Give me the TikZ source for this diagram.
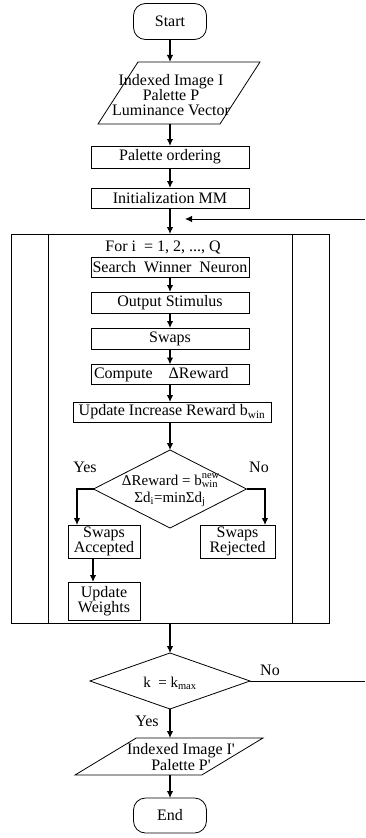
\documentclass[tikz,border=0pt]{standalone}
\usepackage{fontspec}
\setmainfont{Liberation Serif}
\usetikzlibrary{shapes.geometric,arrows.meta}
\begin{document}
\begin{tikzpicture}[x=1pt,y=-1pt,
  font=\fontsize{16}{15}\selectfont,
  every node/.style={inner sep=0pt, outer sep=0pt},
  term/.style={draw, line width=0.8pt, rounded corners=12pt, minimum width=73pt, minimum height=36pt},
  procbox/.style={draw, line width=0.8pt, minimum height=20pt},
  io/.style={draw, line width=0.8pt, trapezium, trapezium stretches=true, inner sep=2pt},
  dia/.style={draw, line width=0.8pt, diamond, inner sep=2pt},
  arr/.style={-{Latex[length=7pt,width=6.5pt]}, line width=1.1pt},
  tarr/.style={-{Latex[length=7pt,width=6.5pt]}, line width=2.2pt},
  conn/.style={line width=1pt}
]
\useasboundingbox (0,0) rectangle (365,838);

% top part
\node[term] (start) at (170,21.5) {Start};
\node[io, trapezium left angle=64, trapezium right angle=116,
      minimum width=162pt, minimum height=62pt] (in) at (179,93) {};
\node[align=center, font=\fontsize{16}{15}\selectfont] (intext) at (171,95)
  {Indexed Image I\\Palette P\\Luminance Vector};
\node[procbox, minimum width=158pt, minimum height=22pt] (po) at (170,157) {Palette ordering};
\node[procbox, minimum width=158pt] (init) at (170,198) {Initialization MM};

% loop box
\node[draw, line width=0.8pt, minimum width=318pt, minimum height=389pt] (loop) at (170,428.5) {};
\draw[line width=0.8pt] ([xshift=37pt]loop.north west) -- ([xshift=37pt]loop.south west);
\draw[line width=0.8pt] ([xshift=-37pt]loop.north east) -- ([xshift=-37pt]loop.south east);

\node (fori) at (163,247) {For i\ \ = 1, 2, ..., Q};
\node[procbox, minimum width=158pt] (sw) at (170,267) {Search\ \ Winner\ \ Neuron};
\node[procbox, minimum width=158pt, minimum height=21pt] (os) at (170,302.5) {Output Stimulus};
\node[procbox, minimum width=158pt, minimum height=21pt] (sp) at (170,338.5) {Swaps};
\node[procbox, minimum width=158pt, text width=152pt, align=left] (cr) at (170,374.5) {Compute\hspace{1em}ΔReward};
\node[procbox, minimum width=198pt] (up) at (172,412) {Update Increase Reward b\textsubscript{win}};

\node[dia, minimum width=153pt, minimum height=78pt] (d1) at (170,489) {};
\node[align=center, font=\fontsize{15}{17}\selectfont] (d1text) at (170,490)
  {ΔReward = b\rlap{\raisebox{1.5pt}{\textsuperscript{new}}}\textsubscript{win}\\Σd\textsubscript{i}=minΣd\textsubscript{j}};
\node (yes1) at (85,467) {Yes};
\node (no1) at (259,467) {No};

\node[procbox, minimum width=72pt, minimum height=33pt, align=center,
      font=\fontsize{16}{14}\selectfont] (acc) at (104,541.5) {Swaps\\Accepted};
\node[procbox, minimum width=75pt, minimum height=33pt, align=center,
      font=\fontsize{16}{14}\selectfont] (rej) at (237.5,541.5) {Swaps\\Rejected};
\node[procbox, minimum width=72pt, minimum height=38pt, align=center,
      font=\fontsize{16}{14}\selectfont] (wt) at (104,601) {Update\\Weights};

% bottom part
\node[dia, minimum width=160pt, minimum height=56pt] (d2) at (170,681) {};
\node[font=\fontsize{15}{15}\selectfont] (d2text) at (170,683) {k\ \ = k\textsubscript{max}};
\node (no2) at (270,670) {No};
\node (yes2) at (147,721) {Yes};
\node[io, trapezium left angle=47, trapezium right angle=133,
      minimum width=188pt, minimum height=37pt] (out) at (169,756.5) {};
\node[align=center, font=\fontsize{16}{12}\selectfont] (outtext) at (181,757)
  {Indexed Image I\textquotesingle\\Palette P\textquotesingle};
\node[term, minimum height=35pt] (end) at (170,815.5) {End};

\coordinate (fbstart) at (365,219);
\coordinate (fbend) at (185,219);
\coordinate (noend) at (365,681);

% connectors
\draw[tarr] (start) -- (start |- in.north);
\draw[tarr] (start |- in.south) -- (po);
\draw[tarr] (po) -- (init);
\draw[arr] (init) -- (loop.north);
\draw[arr, line width=0.8pt] (fbstart) -- (fbend);

\draw[tarr] (sw) -- (os);
\draw[tarr] (os) -- (sp);
\draw[tarr] (sp) -- (cr);
\draw[arr] (cr) -- (cr |- up.north);
\draw[arr] (cr |- up.south) -- (d1.north);
\draw[arr] (d1.west) -| ([xshift=9pt]acc.north west);
\draw[arr] (d1.east) -| ([xshift=-10pt]rej.north east);
\draw[tarr] ([xshift=25pt]acc.south west) -- ([xshift=25pt]wt.north west);

\draw[arr] (loop.south) -- (d2.north);
\draw[conn] (d2.east) -- (noend);
\draw[arr] (d2.south) -- (d2.south |- out.north);
\draw[tarr] (d2.south |- out.south) -- (end);
\end{tikzpicture}
\end{document}
